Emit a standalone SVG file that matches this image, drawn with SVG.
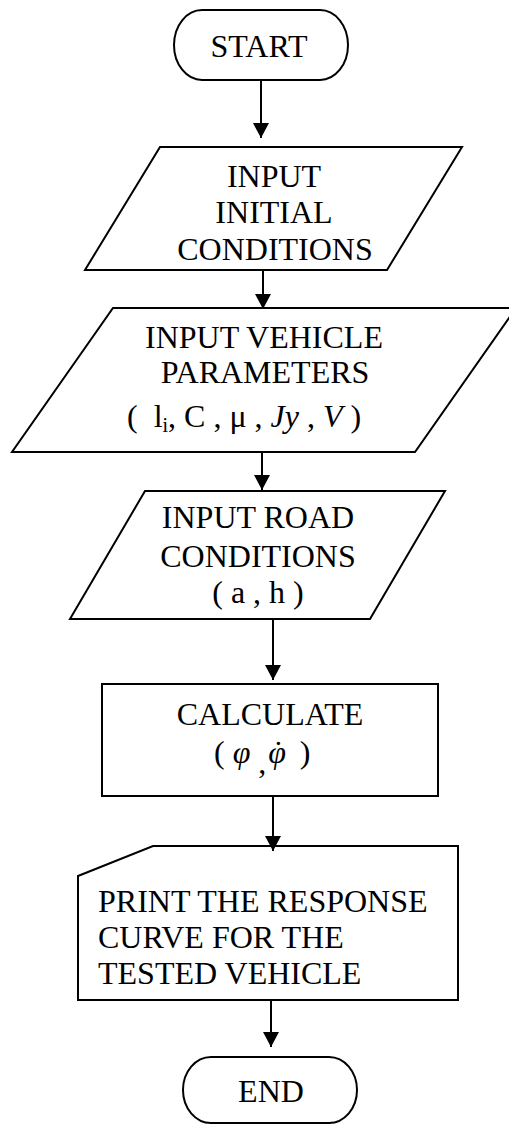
<svg xmlns="http://www.w3.org/2000/svg" width="509" height="1124" viewBox="0 0 509 1124">
<defs>
<style>
.shape{fill:#fff;stroke:#000;stroke-width:2}
.t{font-family:"Liberation Serif","Times New Roman",serif;font-size:32px;fill:#000}
.c{text-anchor:middle}
.conn line{stroke:#000;stroke-width:2}
</style>
<marker id="ah" viewBox="0 0 15 16" refX="15" refY="8" markerWidth="15" markerHeight="16" markerUnits="userSpaceOnUse" orient="auto">
<path d="M0,0 L15,8 L0,16 Z" fill="#000"/>
</marker>
</defs>
<rect width="509" height="1124" fill="#fff"/>
<g id="start">
<rect class="shape" x="174" y="10" width="174" height="70" rx="28" ry="35"/>
<text class="t c" x="259" y="57">START</text>
</g>
<g id="input-initial">
<polygon class="shape" points="160,147 462,147 387,270 85,270"/>
<text class="t c" x="274" y="187">INPUT</text>
<text class="t c" x="274" y="223">INITIAL</text>
<text class="t c" x="275" y="260">CONDITIONS</text>
</g>
<g id="input-vehicle">
<polygon class="shape" points="113,308 516,308 415,452 12,452"/>
<text class="t c" x="264" y="348">INPUT VEHICLE</text>
<text class="t c" x="265" y="383">PARAMETERS</text>
<text class="t" x="127" y="427" xml:space="preserve">(  l<tspan font-size="20" dy="5">i</tspan><tspan dy="-5">, C , μ , </tspan><tspan font-style="italic">Jy</tspan> , <tspan font-style="italic">V</tspan> )</text>
</g>
<g id="input-road">
<polygon class="shape" points="145,491 445,491 370,619 70,619"/>
<text class="t c" x="258" y="528">INPUT ROAD</text>
<text class="t c" x="258" y="567">CONDITIONS</text>
<text class="t c" x="258" y="603">( a , h )</text>
</g>
<g id="calculate">
<rect class="shape" x="102" y="684" width="336" height="112"/>
<text class="t c" x="270" y="725">CALCULATE</text>
<text class="t" x="214" y="763" xml:space="preserve">( <tspan font-style="italic">φ</tspan><tspan dy="10"> ,</tspan><tspan dy="-10" font-style="italic" dx="2">φ</tspan><tspan dx="-13">˙</tspan><tspan xml:space="preserve">  )</tspan></text>
</g>
<g id="print">
<polygon class="shape" points="153,846 458,846 458,1000 78,1000 78,876"/>
<text class="t" x="98" y="912">PRINT THE RESPONSE</text>
<text class="t" x="98" y="948">CURVE FOR THE</text>
<text class="t" x="98" y="984">TESTED VEHICLE</text>
</g>
<g id="end">
<rect class="shape" x="183" y="1057" width="174" height="66" rx="28" ry="33"/>
<text class="t c" x="271" y="1102">END</text>
</g>
<g id="connectors" class="conn">
<line x1="261" y1="80" x2="261" y2="138" marker-end="url(#ah)"/>
<line x1="263" y1="270" x2="263" y2="309" marker-end="url(#ah)"/>
<line x1="262" y1="452" x2="262" y2="490" marker-end="url(#ah)"/>
<line x1="273" y1="619" x2="273" y2="680" marker-end="url(#ah)"/>
<line x1="273" y1="796" x2="273" y2="851" marker-end="url(#ah)"/>
<line x1="271" y1="1000" x2="271" y2="1047" marker-end="url(#ah)"/>
</g>
</svg>
